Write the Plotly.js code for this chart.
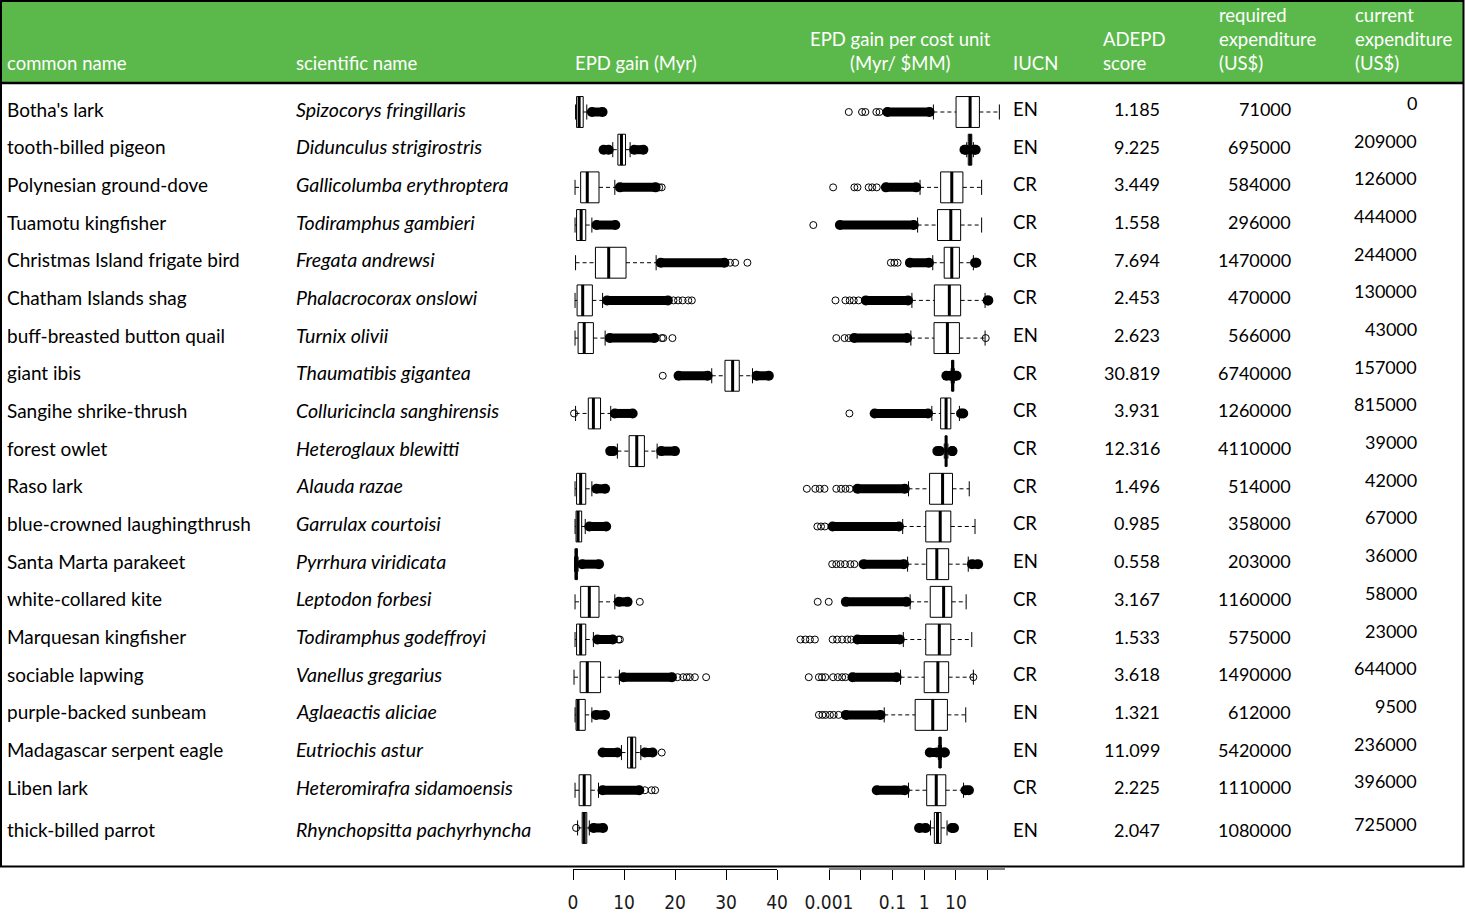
<!DOCTYPE html>
<html><head><meta charset="utf-8">
<script src="https://cdn.plot.ly/plotly-3.0.1.min.js"></script>
<style>html,body{margin:0;padding:0;background:#fff;} #chart{width:1465px;height:918px;}</style>
</head><body><div id="chart"></div>
<script>
// ---------- table data ----------
const commonNames = ["Botha's lark", "tooth-billed pigeon", "Polynesian ground-dove", "Tuamotu kingfisher",
  "Christmas Island frigate bird", "Chatham Islands shag", "buff-breasted button quail", "giant ibis",
  "Sangihe shrike-thrush", "forest owlet", "Raso lark", "blue-crowned laughingthrush", "Santa Marta parakeet",
  "white-collared kite", "Marquesan kingfisher", "sociable lapwing", "purple-backed sunbeam",
  "Madagascar serpent eagle", "Liben lark", "thick-billed parrot"];
const sciNames = ["Spizocorys fringillaris", "Didunculus strigirostris", "Gallicolumba erythroptera",
  "Todiramphus gambieri", "Fregata andrewsi", "Phalacrocorax onslowi", "Turnix olivii", "Thaumatibis gigantea",
  "Colluricincla sanghirensis", "Heteroglaux blewitti", "Alauda razae", "Garrulax courtoisi",
  "Pyrrhura viridicata", "Leptodon forbesi", "Todiramphus godeffroyi", "Vanellus gregarius",
  "Aglaeactis aliciae", "Eutriochis astur", "Heteromirafra sidamoensis", "Rhynchopsitta pachyrhyncha"];
const iucn = ["EN","EN","CR","CR","CR","CR","EN","CR","CR","CR","CR","CR","EN","CR","CR","CR","EN","EN","CR","EN"];
const adepd = [1.185, 9.225, 3.449, 1.558, 7.694, 2.453, 2.623, 30.819, 3.931, 12.316, 1.496, 0.985, 0.558,
  3.167, 1.533, 3.618, 1.321, 11.099, 2.225, 2.047];
const reqExp = [71000, 695000, 584000, 296000, 1470000, 470000, 566000, 6740000, 1260000, 4110000, 514000,
  358000, 203000, 1160000, 575000, 1490000, 612000, 5420000, 1110000, 1080000];
const curExp = [0, 209000, 126000, 444000, 244000, 130000, 43000, 157000, 815000, 39000, 42000, 67000, 36000,
  58000, 23000, 644000, 9500, 236000, 396000, 725000];

// ---------- EPD gain (Myr) box statistics ----------
const gainLow  = [0.5, 7.8, 0.4, 0.4, 0.5, 0.4, 0.4, 27.2, 0.5, 8.7, 0.4, 0.4, 0.3, 0.4, 0.4, 0.2, 0.4, 9.5, 0.4, 0.9];
const gainQ1   = [0.7, 8.8, 1.5, 0.7, 4.4, 0.8, 1.0, 29.8, 3.0, 11.0, 0.7, 0.6, 0.45, 1.5, 0.7, 1.4, 0.6, 10.7, 1.2, 1.8];
const gainMed  = [1.2, 9.5, 2.8, 1.6, 7.0, 1.9, 2.2, 31.3, 4.0, 12.5, 1.5, 1.0, 0.6, 3.2, 1.5, 2.8, 1.0, 11.5, 2.2, 2.2];
const gainQ3   = [2.0, 10.3, 5.1, 2.5, 10.4, 3.8, 4.0, 32.6, 5.4, 14.0, 2.5, 1.7, 0.85, 5.1, 2.5, 5.4, 2.4, 12.3, 3.5, 2.7];
const gainHigh = [2.7, 11.2, 8.2, 3.7, 16.3, 5.8, 6.3, 35.2, 7.4, 16.5, 3.7, 2.4, 1.0, 8.2, 4.0, 9.1, 3.7, 13.3, 5.0, 3.2];
// ranges of densely packed outliers
const gainDense = [
  [[3.7, 5.8]], [[6.0, 7.0], [12.0, 13.8]], [[9.2, 16.2]], [[4.6, 8.3]], [[17.2, 29.7]],
  [[6.7, 18.6]], [[7.2, 16.0]], [[20.7, 26.4], [36.0, 38.4]], [[8.2, 11.7]], [[7.3, 7.9], [17.3, 20.0]],
  [[4.6, 6.3]], [[3.2, 6.5]], [[1.8, 5.1]], [[9.0, 10.7]], [[4.8, 7.8]],
  [[9.9, 19.4]], [[4.5, 6.3]], [[5.8, 8.7], [14.1, 15.6]], [[5.8, 13.0]], [[4.0, 5.9]]];
// isolated outliers
const gainSparse = [
  [], [], [16.9, 17.4], [], [30.8, 31.8, 34.2], [19.7, 20.6, 21.5, 22.6, 23.3], [17.4, 17.7, 19.5], [17.6],
  [0.2], [], [], [], [], [13.1], [8.9, 9.2], [20.5, 21.6, 22.3, 22.9, 23.9, 26.1], [], [17.4],
  [14.1, 15.4, 16.1], [0.6]];

// ---------- EPD gain per cost unit (Myr / $MM) box statistics ----------
const costLow  = [1.95, 21.9, 0.74, 0.62, 1.86, 0.41, 0.38, 7.1, 1.74, 4.3, 0.32, 0.21, 0.30, 0.36, 0.22, 0.18, 0.055, 2.8, 0.32, 1.58];
const costQ1   = [10.1, 24.5, 3.3, 2.63, 4.27, 2.09, 2.04, 7.4, 3.3, 4.7, 1.48, 1.12, 1.2, 1.55, 1.12, 1.0, 0.52, 2.95, 1.2, 2.09];
const costMed  = [28, 28.2, 7.4, 6.9, 7.4, 6.2, 5.4, 7.9, 4.9, 4.9, 3.8, 3.2, 2.5, 4.1, 3.0, 2.7, 1.86, 3.16, 2.4, 2.63];
const costQ3   = [55, 31.6, 16.6, 14.1, 12.9, 14.1, 12.9, 8.5, 6.9, 5.1, 7.8, 6.9, 5.9, 7.4, 6.9, 5.9, 5.4, 3.4, 4.8, 3.4];
const costHigh = [234, 35.5, 64.6, 64.6, 35.5, 83, 83, 8.9, 12.9, 5.6, 26.3, 40, 24.5, 21, 31.6, 35.5, 20.4, 3.5, 17.4, 5.25];
const costDense = [
  [[0.069, 1.48]], [[18.6, 20.9], [38, 42]], [[0.062, 0.56]], [[0.0022, 0.47]], [[0.355, 1.41], [40, 44]],
  [[0.0145, 0.31], [100, 105]], [[0.0062, 0.29]], [[5.0, 7.0], [9.3, 10.5]], [[0.0275, 1.32], [14.5, 17]],
  [[2.6, 3.1], [7.6, 7.8]], [[0.0079, 0.245]], [[0.0013, 0.16]], [[0.0123, 0.23], [32, 50]],
  [[0.0034, 0.275]], [[0.0079, 0.17]], [[0.0055, 0.135]], [[0.0034, 0.042]], [[1.5, 2.5], [4.2, 4.5]],
  [[0.032, 0.245], [20, 25.7]], [[0.69, 1.12], [7.4, 8.7]]];
const costSparse = [
  [0.0042, 0.011, 0.014, 0.031, 0.039], [], [0.00135, 0.0063, 0.0079, 0.0178, 0.0229, 0.032], [0.00032],
  [0.089, 0.115, 0.145], [0.0016, 0.0033, 0.0045, 0.006, 0.0085], [0.0017, 0.0031, 0.0042, 87], [],
  [0.0044], [], [0.0002, 0.00037, 0.00051, 0.00072, 0.0017, 0.0024, 0.0033, 0.0045],
  [0.00043, 0.00056, 0.00074], [0.00126, 0.0017, 0.0023, 0.0032, 0.0047, 0.0063], [0.00044, 0.00098],
  [0.000126, 0.00018, 0.00025, 0.00036, 0.0013, 0.0018, 0.0026, 0.0038, 0.005],
  [0.00023, 0.00048, 0.0006, 0.00076, 0.00135, 0.0019, 0.0026, 0.0033, 35.5],
  [0.00048, 0.00062, 0.00078, 0.00107, 0.0014, 0.002], [], [], []];

const gainTicks = [0, 10, 20, 30, 40];
const costTicks = [0.001, 0.01, 0.1, 1, 10, 100];
const costTickText = ['0.001', '', '0.1', '1', '10', ''];

const headerCells = [
  {lines: ['common name'], x: 5, anchor: 'left'},
  {lines: ['scientific name'], x: 294, anchor: 'left'},
  {lines: ['EPD gain (Myr)'], x: 573, anchor: 'left'},
  {lines: ['EPD gain per cost unit', '(Myr/ $MM)'], x: 900, anchor: 'center'},
  {lines: ['IUCN'], x: 1011, anchor: 'left'},
  {lines: ['ADEPD', 'score'], x: 1101, anchor: 'left'},
  {lines: ['required', 'expenditure', '(US$)'], x: 1217, anchor: 'left'},
  {lines: ['current', 'expenditure', '(US$)'], x: 1353, anchor: 'left'}
];

// ---------- build ----------
const W = 1465, H = 918;
const n = commonNames.length;
const rows = commonNames.map((_, i) => i);
const HALF = 0.41, CAP = 0.2;
const TXT = 'Lato, "Open Sans", sans-serif';
const NUMF = '"Liberation Sans Narrow", "DejaVu Sans Condensed", "Liberation Sans", sans-serif';

function panelTraces(xa, low, q1, med, q3, high, dense, sparse) {
  const t = [];
  const wx = [], wy = [], cx = [], cy = [], dx = [], dy = [], mx = [], my = [], px = [], py = [];
  rows.forEach(i => {
    if (low[i] < q1[i]) { wx.push(low[i], q1[i], null); wy.push(i, i, null); }
    if (high[i] > q3[i]) { wx.push(q3[i], high[i], null); wy.push(i, i, null); }
    cx.push(low[i], low[i], null, high[i], high[i], null);
    cy.push(i - CAP, i + CAP, null, i - CAP, i + CAP, null);
    dense[i].forEach(seg => { dx.push(seg[0], seg[1], null); dy.push(i, i, null); });
    mx.push(med[i], med[i], null); my.push(i - HALF, i + HALF, null);
    sparse[i].forEach(v => { px.push(v); py.push(i); });
  });
  t.push({type: 'scatter', mode: 'lines', x: wx, y: wy, xaxis: xa, yaxis: 'y',
    line: {color: '#000', width: 1, dash: '4px,3px'}, hoverinfo: 'skip', showlegend: false});
  t.push({type: 'scatter', mode: 'lines', x: cx, y: cy, xaxis: xa, yaxis: 'y',
    line: {color: '#000', width: 1}, hoverinfo: 'skip', showlegend: false});
  t.push({type: 'scatter', mode: 'lines+markers', x: dx, y: dy, xaxis: xa, yaxis: 'y', cliponaxis: false,
    line: {color: '#000', width: 9}, marker: {color: '#000', size: 10, symbol: 'circle'},
    hoverinfo: 'skip', showlegend: false});
  t.push({type: 'box', orientation: 'h', y: rows, q1: q1, median: med, q3: q3,
    lowerfence: q1, upperfence: q3, xaxis: xa, yaxis: 'y', width: 2 * HALF, whiskerwidth: 0,
    fillcolor: '#fff', line: {color: '#000', width: 1}, boxpoints: false, hoverinfo: 'skip', showlegend: false});
  t.push({type: 'scatter', mode: 'lines', x: mx, y: my, xaxis: xa, yaxis: 'y',
    line: {color: '#000', width: 3}, hoverinfo: 'skip', showlegend: false});
  t.push({type: 'scatter', mode: 'markers', x: px, y: py, xaxis: xa, yaxis: 'y', cliponaxis: false,
    marker: {symbol: 'circle-open', size: 7, color: '#000', line: {width: 1, color: '#000'}},
    hoverinfo: 'skip', showlegend: false});
  return t;
}

const traces = [].concat(
  panelTraces('x', gainLow, gainQ1, gainMed, gainQ3, gainHigh, gainDense, gainSparse),
  panelTraces('x2', costLow, costQ1, costMed, costQ3, costHigh, costDense, costSparse)
);

// y axis: rows mapped so row 0 sits at 112px and spacing is ~37.68px; bottom of domain at 869px
const AXIS_Y = 869, ROW0 = 112, ROWSTEP = 37.68;
const yTop = -ROW0 / ROWSTEP;
const yBottom = yTop + AXIS_Y / ROWSTEP;

// log panel: axis drawn from 0.001 (829px) to 1005px; range extended one decade left for far outliers
const LOG_LO = -4, LOG_HI = 2.547;
const decadePx = (1005 - 829) / (LOG_HI - Math.log10(costTicks[0]));
const logDomainStart = 829 - decadePx * (Math.log10(costTicks[0]) - LOG_LO);

const annotations = [];
const fx = px => px / W;
const fy = py => 1 - py / H;
headerCells.forEach(h => {
  const L = h.lines.length;
  h.lines.forEach((ln, k) => {
    const py = 63 - (L - 1 - k) * 24;
    annotations.push({xref: 'paper', yref: 'paper', x: fx(h.x), y: fy(py), xanchor: h.anchor, yanchor: 'middle',
      text: ln, showarrow: false, font: {family: TXT, size: 18.5, color: '#fff'}});
  });
});
rows.forEach(i => {
  const ys = i === n - 1 ? -2 : 3;
  const ysCur = i === n - 1 ? 4 : 9;
  const base = {xref: 'paper', yref: 'y', y: i, yanchor: 'middle', showarrow: false};
  const f = s => ({family: TXT, size: s, color: '#000'});
  annotations.push(Object.assign({}, base, {x: fx(5), xanchor: 'left', text: commonNames[i], yshift: ys, font: f(19)}));
  annotations.push(Object.assign({}, base, {x: fx(294), xanchor: 'left', text: '<i>' + sciNames[i] + '</i>', yshift: ys, font: f(19.6)}));
  annotations.push(Object.assign({}, base, {x: fx(1011), xanchor: 'left', text: iucn[i], yshift: ys, font: f(18.5)}));
  annotations.push(Object.assign({}, base, {x: fx(1162), xanchor: 'right', text: adepd[i].toFixed(3), yshift: ys, font: f(18)}));
  annotations.push(Object.assign({}, base, {x: fx(1293), xanchor: 'right', text: String(reqExp[i]), yshift: ys, font: f(18)}));
  annotations.push(Object.assign({}, base, {x: fx(1419), xanchor: 'right', text: String(curExp[i]), yshift: ysCur, font: f(18)}));
});

const shapes = [
  {type: 'rect', xref: 'paper', yref: 'paper', x0: fx(1), x1: fx(1464), y0: fy(1), y1: fy(83),
    fillcolor: '#5ab94a', line: {width: 0}, layer: 'below'},
  {type: 'line', xref: 'paper', yref: 'paper', x0: fx(1), x1: fx(1464), y0: fy(83), y1: fy(83),
    line: {color: '#000', width: 2.5}},
  {type: 'rect', xref: 'paper', yref: 'paper', x0: fx(1), x1: fx(1463.5), y0: fy(1), y1: fy(866.5),
    line: {color: '#000', width: 2}, fillcolor: 'rgba(0,0,0,0)'},
  // log axis line from the first to the end of the axis
  {type: 'line', xref: 'x2 domain', yref: 'paper',
    x0: (Math.log10(costTicks[0]) - LOG_LO) / (LOG_HI - LOG_LO), x1: 1, y0: fy(AXIS_Y), y1: fy(AXIS_Y),
    line: {color: '#000', width: 1}}
];

const axisCommon = {anchor: 'y', linecolor: '#000', linewidth: 1, ticks: 'outside', ticklen: 10,
  tickwidth: 1, tickcolor: '#000', showgrid: false, zeroline: false, fixedrange: true, ticklabelstandoff: 6,
  tickfont: {family: NUMF, size: 19, color: '#1a1a1a'}};

const layout = {
  width: W, height: H, autosize: false,
  margin: {l: 0, r: 0, t: 0, b: 0, pad: 0},
  paper_bgcolor: '#fff', plot_bgcolor: 'rgba(0,0,0,0)',
  showlegend: false,
  xaxis: Object.assign({}, axisCommon, {showline: true, domain: [573 / W, 777 / W], range: [0, 40],
    tickmode: 'array', tickvals: gainTicks, ticktext: gainTicks.map(String)}),
  xaxis2: Object.assign({}, axisCommon, {showline: false, type: 'log', domain: [logDomainStart / W, 1005 / W],
    range: [LOG_LO, LOG_HI], tickmode: 'array', tickvals: costTicks, ticktext: costTickText}),
  yaxis: {domain: [1 - AXIS_Y / H, 1], range: [yBottom, yTop], visible: false, showgrid: false,
    zeroline: false, fixedrange: true},
  shapes: shapes,
  annotations: annotations
};

Plotly.newPlot('chart', traces, layout, {displayModeBar: false, staticPlot: true});
</script>
</body></html>
